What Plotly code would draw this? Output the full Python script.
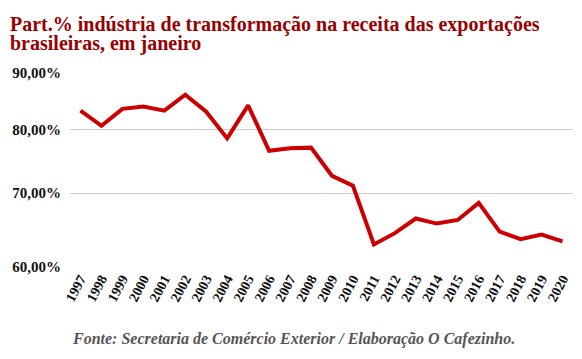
import plotly.graph_objects as go
import math

years = [str(y) for y in range(1997, 2021)]
values = [83.2, 80.6, 83.5, 83.9, 83.2, 86.0, 83.0, 78.5, 84.1, 76.5, 76.9, 77.0,
          72.6, 71.1, 62.9, 64.4, 66.4, 65.7, 66.2, 68.6, 64.6, 63.6, 64.2, 63.3]
tick_vals = [60, 70, 80, 90]
tick_text = ["60,00%", "70,00%", "80,00%", "90,00%"]
title_lines = ["Part.% indústria de transformação na receita das exportações",
               "brasileiras, em janeiro"]
source = "Fonte: Secretaria de Comércio Exterior / Elaboração O Cafezinho."

# page body has an 8px default margin, so the figure is sized to fill the rest
W, H = 574, 351
L, R, T, B = 62, 9, 65, 92
plot_w, plot_h = W - L - R, H - T - B

def px_x(fx):
    return (fx - L) / plot_w

def px_y(fy):
    return (H - B - fy) / plot_h

fig = go.Figure()
fig.add_trace(go.Scatter(x=years, y=values, mode="lines",
                         line=dict(color="#cc0000", width=4), hoverinfo="x+y"))

title_font = dict(family="Liberation Serif", size=20, color="#990000", weight="bold")
annotations = [
    dict(text=title_lines[0], xref="paper", yref="paper", x=px_x(0), y=px_y(16.5),
         xanchor="left", yanchor="middle", showarrow=False, font=title_font),
    dict(text=title_lines[1], xref="paper", yref="paper", x=px_x(0), y=px_y(35.5),
         xanchor="left", yanchor="middle", showarrow=False, font=title_font),
    dict(text=source, xref="paper", yref="paper", x=px_x(61.5), y=px_y(331),
         xanchor="left", yanchor="middle", showarrow=False,
         font=dict(family="Liberation Serif", size=16, color="#555555",
                   style="italic", weight="bold")),
]

fig.update_layout(
    width=W, height=H,
    margin=dict(l=L, r=R, t=T, b=B),
    paper_bgcolor="white", plot_bgcolor="white",
    showlegend=False,
    xaxis=dict(type="category", range=[-0.5, 23.5], tickangle=-62, automargin=False,
               showgrid=False, showline=False, ticks="",
               tickfont=dict(family="Liberation Serif", size=14, color="#111111", weight="bold")),
    yaxis=dict(type="log", range=[math.log10(60), math.log10(90)], automargin=False,
               tickvals=tick_vals, ticktext=tick_text,
               showgrid=True, gridcolor="#cccccc", gridwidth=1, zeroline=False,
               ticks="", ticklabelstandoff=8,
               tickfont=dict(family="Liberation Serif", size=15, color="#111111", weight="bold")),
    annotations=annotations,
)
fig.write_html("out.html")
